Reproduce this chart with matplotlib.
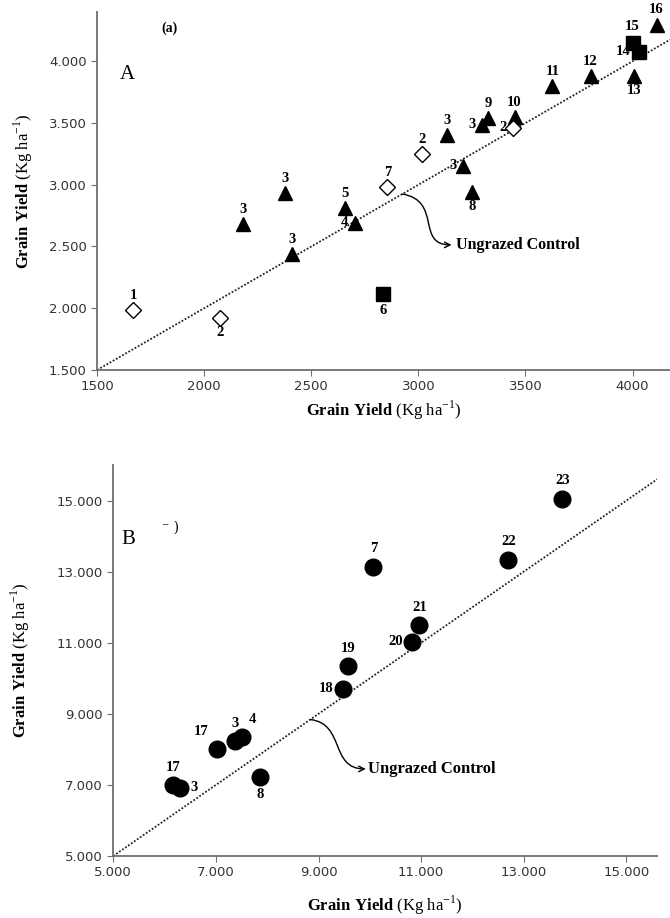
import numpy as np
import matplotlib.pyplot as plt
from matplotlib.ticker import FuncFormatter
from matplotlib.patches import FancyArrowPatch
from matplotlib.path import Path

plt.rcParams['font.family'] = ['DejaVu Sans']
plt.rcParams['mathtext.fontset'] = 'custom'
plt.rcParams['mathtext.rm'] = 'Liberation Serif'
plt.rcParams['mathtext.bf'] = 'Liberation Serif:bold'

# panel A data
tri_x = [2182, 2379, 2411, 2659, 2706, 3136, 3210, 3252, 3299, 3327, 3449, 3626, 3804, 4005, 4112]
tri_y = [2683, 2934, 2440, 2813, 2691, 3404, 3153, 2942, 3485, 3542, 3550, 3801, 3882, 3882, 4296]
tri_lab = ['3', '3', '3', '5', '4', '3', '3', '8', '3', '9', '10', '11', '12', '13', '16']
tri_pos = ['a', 'a', 'a', 'a', 'l', 'a', 'l', 'b', 'l', 'a', 'a', 'a', 'a', 'b', 'a']

dia_x = [1668, 2075, 2855, 3019, 3444]
dia_y = [1986, 1921, 2983, 3250, 3461]
dia_lab = ['1', '2', '7', '2', '2']
dia_pos = ['a', 'b', 'a', 'a', 'l']

sq_x = [2836, 4000, 4028]
sq_y = [2116, 4150, 4077]
sq_lab = ['6', '15', '14']
sq_pos = ['b', 'a', 'l']

# panel B data
circ_x = [6170, 6306, 7027, 7378, 7514, 7865, 9483, 9581, 10828, 10965, 10068, 12700, 13752]
circ_y = [7000, 6915, 8014, 8240, 8352, 7225, 9704, 10352, 11028, 11507, 13141, 13338, 15056]
circ_lab = ['17', '3', '17', '3', '4', '8', '18', '19', '20', '21', '7', '22', '23']
circ_pos = ['a', 'r', 'ul', 'a', 'ur', 'b', 'l', 'a', 'l', 'a', 'a', 'a', 'a']

offsets = {'a': (0, 6, 'center', 'bottom'), 'b': (0, -6, 'center', 'top'),
           'l': (-5, 0, 'right', 'center'), 'r': (5, 0, 'left', 'center'),
           'ul': (-4, 6, 'right', 'bottom'), 'ur': (3, 6, 'left', 'bottom')}

lab_font = dict(family='Liberation Serif', fontweight='bold', fontsize=10.5)
axis_label = r'$\mathbf{Grain\ Yield}$ (Kg ha$^{-1}$)'
dotfmt = FuncFormatter(lambda v, p: f"{v:,.0f}".replace(",", "."))


def label_points(ax, xs, ys, labs, pos, pad=0):
    for x, y, t, p in zip(xs, ys, labs, pos):
        dx, dy, ha, va = offsets[p]
        ax.annotate(t, (x, y), xytext=(dx + np.sign(dx) * pad, dy + np.sign(dy) * pad),
                    textcoords='offset points', ha=ha, va=va, **lab_font, clip_on=False)


def style(ax):
    for s in ['top', 'right']:
        ax.spines[s].set_visible(False)
    for s in ['left', 'bottom']:
        ax.spines[s].set_color('#6f6f6f')
        ax.spines[s].set_linewidth(1.3)
    ax.tick_params(direction='out', length=4, color='#6f6f6f', labelsize=9.5, labelcolor='#333333')


def curved_arrow(ax, start, c1, c2, end):
    p = Path([start, c1, c2, end], [Path.MOVETO, Path.CURVE4, Path.CURVE4, Path.CURVE4])
    ax.add_patch(FancyArrowPatch(path=p, arrowstyle='->', mutation_scale=10,
                                 color='black', lw=1))


fig = plt.figure(figsize=(6.7, 9.18), dpi=100)

# ---- panel A
ax1 = fig.add_axes([0.145, 0.597, 0.855, 0.39])
ax1.set_xlim(1500, 4175)
ax1.set_ylim(1500, 4400)
ax1.plot([1500, 4175], [1500, 4175], color='#222222', ls=(0, (1, 1)), lw=1.3, zorder=1)
ax1.plot(tri_x, tri_y, '^', color='black', ms=10, ls='none', zorder=3, clip_on=False)
ax1.plot(dia_x, dia_y, 'D', mfc='white', mec='black', mew=1, ms=8.5, ls='none', zorder=3)
ax1.plot(sq_x, sq_y, 's', color='black', ms=10.5, ls='none', zorder=3)
label_points(ax1, tri_x, tri_y, tri_lab, tri_pos)
label_points(ax1, dia_x, dia_y, dia_lab, dia_pos)
label_points(ax1, sq_x, sq_y, sq_lab, sq_pos, pad=1)
ax1.set_xticks([1500, 2000, 2500, 3000, 3500, 4000])
ax1.set_yticks([1500, 2000, 2500, 3000, 3500, 4000])
ax1.yaxis.set_major_formatter(dotfmt)
style(ax1)
ax1.set_xlabel(axis_label, family='Liberation Serif', fontsize=12, labelpad=4)
ax1.set_ylabel(axis_label, family='Liberation Serif', fontsize=12, labelpad=10)
ax1.text(0.127, 0.955, '(a)', transform=ax1.transAxes, family='Liberation Serif',
         fontweight='bold', fontsize=10, ha='center', va='center')
ax1.text(0.052, 0.824, 'A', transform=ax1.transAxes, family='Liberation Serif',
         fontsize=15, ha='center', va='center')
curved_arrow(ax1, (2925, 2925), (3112, 2870), (2987, 2513), (3155, 2513))
ax1.text(3175, 2513, 'Ungrazed Control', family='Liberation Serif', fontweight='bold',
         fontsize=11.5, ha='left', va='center')

# ---- panel B
ax2 = fig.add_axes([0.169, 0.0675, 0.812, 0.426])
ax2.set_xlim(5000, 15600)
ax2.set_ylim(5000, 16000)
ax2.plot([5000, 15600], [5000, 15600], color='#222222', ls=(0, (1, 1)), lw=1.3, zorder=1)
ax2.plot(circ_x, circ_y, 'o', color='black', ms=12, ls='none', zorder=3)
label_points(ax2, circ_x, circ_y, circ_lab, circ_pos, pad=2)
ax2.set_xticks([5000, 7000, 9000, 11000, 13000, 15000])
ax2.set_yticks([5000, 7000, 9000, 11000, 13000, 15000])
ax2.xaxis.set_major_formatter(dotfmt)
ax2.yaxis.set_major_formatter(dotfmt)
style(ax2)
ax2.set_xlabel(axis_label, family='Liberation Serif', fontsize=12, labelpad=10)
ax2.set_ylabel(axis_label, family='Liberation Serif', fontsize=12, labelpad=18)
ax2.text(0.028, 0.81, 'B', transform=ax2.transAxes, family='Liberation Serif',
         fontsize=15, ha='center', va='center')
ax2.text(0.105, 0.839, '\u207b )', transform=ax2.transAxes, family='DejaVu Serif',
         fontsize=10, ha='center', va='center')
curved_arrow(ax2, (8840, 8840), (9522, 8720), (9218, 7450), (9920, 7450))
ax2.text(9960, 7450, 'Ungrazed Control', family='Liberation Serif', fontweight='bold',
         fontsize=12, ha='left', va='center')

fig.savefig('out.png', dpi=100)
